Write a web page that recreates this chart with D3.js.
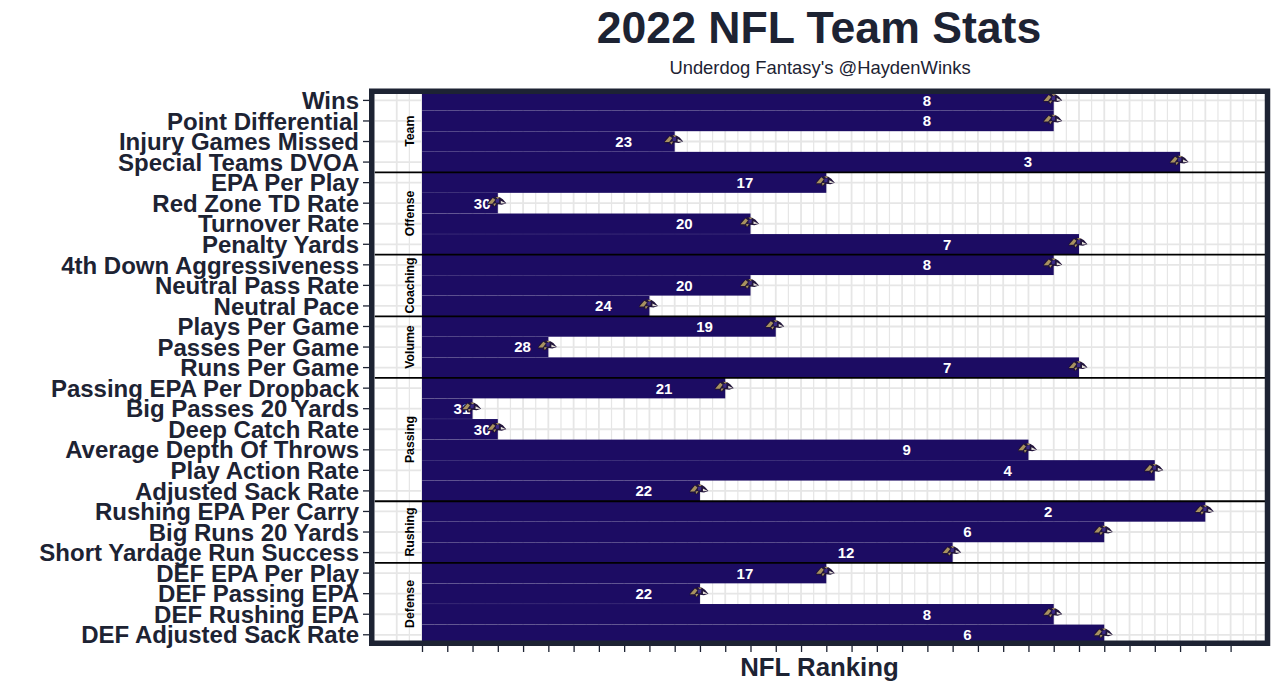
<!DOCTYPE html>
<html>
<head>
<meta charset="utf-8">
<script src="https://cdn.jsdelivr.net/npm/d3@7"></script>
<style>
  html, body { margin: 0; padding: 0; background: #fff; }
  svg { display: block; font-family: "Liberation Sans", Arial, sans-serif; }
</style>
</head>
<body>
<svg id="chart" width="1280" height="691"></svg>
<script>
// stats, top to bottom
var metrics = ["Wins", "Point Differential", "Injury Games Missed", "Special Teams DVOA",
    "EPA Per Play", "Red Zone TD Rate", "Turnover Rate", "Penalty Yards",
    "4th Down Aggressiveness", "Neutral Pass Rate", "Neutral Pace",
    "Plays Per Game", "Passes Per Game", "Runs Per Game",
    "Passing EPA Per Dropback", "Big Passes 20 Yards", "Deep Catch Rate", "Average Depth Of Throws", "Play Action Rate", "Adjusted Sack Rate",
    "Rushing EPA Per Carry", "Big Runs 20 Yards", "Short Yardage Run Success",
    "DEF EPA Per Play", "DEF Passing EPA", "DEF Rushing EPA", "DEF Adjusted Sack Rate"];
var ranks = [8, 8, 23, 3,
    17, 30, 20, 7,
    8, 20, 24,
    19, 28, 7,
    21, 31, 30, 9, 4, 22,
    2, 6, 12,
    17, 22, 8, 6];
var groupNames = ["Team", "Offense", "Coaching", "Volume", "Passing", "Rushing", "Defense"];
var groupSizes = [4, 4, 3, 3, 6, 3, 4];
var teams = 32;

var dark = "#1d2333";
var barColor = "#1c0c63";
var gridColor = "#e6e6e6";

var svg = d3.select("#chart");

var panel = { left: 374.5, right: 1265, top: 94, bottom: 641 };

// bars run from 0 to (33 - rank), so rank 1 is the longest
var x = d3.scaleLinear().domain([0, 32]).range([422, 1230.6]);
var y = d3.scaleBand().domain(metrics).range([90.2, 645]).paddingInner(0.006).paddingOuter(0);

var clip = svg.append("defs").append("clipPath").attr("id", "panel-clip");
clip.append("rect")
    .attr("x", panel.left)
    .attr("y", panel.top)
    .attr("width", panel.right - panel.left)
    .attr("height", panel.bottom - panel.top);

var blur = svg.select("defs").append("filter").attr("id", "soft");
blur.append("feGaussianBlur").attr("stdDeviation", 0.45);

var plot = svg.append("g").attr("clip-path", "url(#panel-clip)");

// grid
var gridValues = d3.range(-1, 33.5, 0.5);
plot.selectAll(".vgrid")
    .data(gridValues)
    .enter().append("line")
    .attr("class", "vgrid")
    .attr("x1", function (d) { return x(d); })
    .attr("x2", function (d) { return x(d); })
    .attr("y1", panel.top)
    .attr("y2", panel.bottom)
    .attr("stroke", gridColor)
    .attr("stroke-width", function (d) { return d % 1 === 0 ? 1.8 : 1.2; });

plot.selectAll(".hgrid")
    .data(metrics)
    .enter().append("line")
    .attr("class", "hgrid")
    .attr("x1", panel.left)
    .attr("x2", panel.right)
    .attr("y1", function (d) { return y(d) + y.bandwidth() / 2; })
    .attr("y2", function (d) { return y(d) + y.bandwidth() / 2; })
    .attr("stroke", gridColor)
    .attr("stroke-width", 1.8);

// bars
plot.selectAll(".bar")
    .data(metrics)
    .enter().append("rect")
    .attr("class", "bar")
    .attr("x", x(0))
    .attr("y", function (d) { return y(d); })
    .attr("width", function (d, i) { return x(teams + 1 - ranks[i]) - x(0); })
    .attr("height", y.bandwidth())
    .attr("fill", barColor);

// group separators and strip labels
var start = 0;
groupNames.forEach(function (name, g) {
    var first = metrics[start];
    var last = metrics[start + groupSizes[g] - 1];
    var mid = (y(first) + y(last) + y.bandwidth()) / 2;
    if (g > 0) {
        plot.append("line")
            .attr("x1", panel.left)
            .attr("x2", panel.right)
            .attr("y1", y(first))
            .attr("y2", y(first))
            .attr("stroke", "#000")
            .attr("stroke-width", 1.8);
    }
    svg.append("text")
        .attr("transform", "translate(410," + mid + ") rotate(-90)")
        .attr("text-anchor", "middle")
        .attr("dy", "0.36em")
        .attr("font-size", 12.3)
        .attr("font-weight", "bold")
        .attr("fill", "#000")
        .text(name);
    start += groupSizes[g];
});

// value labels
svg.selectAll(".value")
    .data(metrics)
    .enter().append("text")
    .attr("class", "value")
    .attr("x", function (d, i) { return x((teams + 1 - ranks[i]) * 0.8) - 0.5; })
    .attr("y", function (d) { return y(d) + y.bandwidth() / 2; })
    .attr("dy", "0.36em")
    .attr("text-anchor", "middle")
    .attr("font-size", 15)
    .attr("font-weight", "bold")
    .attr("fill", "#fff")
    .text(function (d, i) { return ranks[i]; });

// little ravens logo at the end of each bar
var logos = svg.selectAll(".logo")
    .data(metrics)
    .enter().append("g")
    .attr("class", "logo")
    .attr("filter", "url(#soft)")
    .attr("transform", function (d, i) {
        return "translate(" + (x(teams + 1 - ranks[i]) - 1) + "," + (y(d) + y.bandwidth() / 2 - 1.5) + ")";
    });
logos.append("path")
    .attr("d", "M-9.5,1.5 Q-7,-4 -2,-5 Q3,-5.5 6,-2.5 L9.5,1.5 L5,3 L1,2.5 L-1,4.5 L-4,5 L-5,3 L-9,3.5 Z")
    .attr("fill", "#20133a");
logos.append("path")
    .attr("d", "M-9,2 L-4,-3.8 L-1.5,-2 L-4.5,2 Z M-3.5,2 L-0.5,1.5 L-2.5,4.5 Z M-1,-4.8 L3,-4.5 L1,-2.8 Z")
    .attr("fill", "#a8925f");
logos.append("path")
    .attr("d", "M-1,-2.5 L2.5,-3 L2,1 L-1,1 Z")
    .attr("fill", "#3b2b85");
logos.append("path")
    .attr("d", "M4,-1 L9,1.5 L4,1.8 Z")
    .attr("fill", "#e4e0d8");

// panel border
svg.append("rect")
    .attr("x", 371.75)
    .attr("y", 91.25)
    .attr("width", 895.75)
    .attr("height", 552)
    .attr("fill", "none")
    .attr("stroke", dark)
    .attr("stroke-width", 5.5);

// axes: ticks only on x, labels on y
var yAxis = d3.axisLeft(y).tickSize(6).tickPadding(4);
var xAxis = d3.axisBottom(x).tickValues(d3.range(0, teams + 1)).tickSize(6).tickFormat("");

var yg = svg.append("g").attr("transform", "translate(369,0)").call(yAxis);
yg.select(".domain").remove();
yg.selectAll("line").attr("stroke", dark).attr("stroke-width", 1.3);
yg.selectAll("text")
    .attr("y", 1)
    .attr("font-family", "'Liberation Sans', Arial, sans-serif")
    .attr("font-size", 24)
    .attr("font-weight", "bold")
    .attr("fill", dark);

var xg = svg.append("g").attr("transform", "translate(0,646)").call(xAxis);
xg.select(".domain").remove();
xg.selectAll("line").attr("stroke", dark).attr("stroke-width", 1.3);

// titles
svg.append("text")
    .attr("x", 819).attr("y", 43)
    .attr("text-anchor", "middle")
    .attr("font-size", 44.6)
    .attr("font-weight", "bold")
    .attr("fill", dark)
    .text("2022 NFL Team Stats");

svg.append("text")
    .attr("x", 820).attr("y", 74)
    .attr("text-anchor", "middle")
    .attr("font-size", 18.4)
    .attr("fill", dark)
    .text("Underdog Fantasy's @HaydenWinks");

svg.append("text")
    .attr("x", 819.5).attr("y", 676)
    .attr("text-anchor", "middle")
    .attr("font-size", 25.8)
    .attr("font-weight", "bold")
    .attr("fill", dark)
    .text("NFL Ranking");
</script>
</body>
</html>
